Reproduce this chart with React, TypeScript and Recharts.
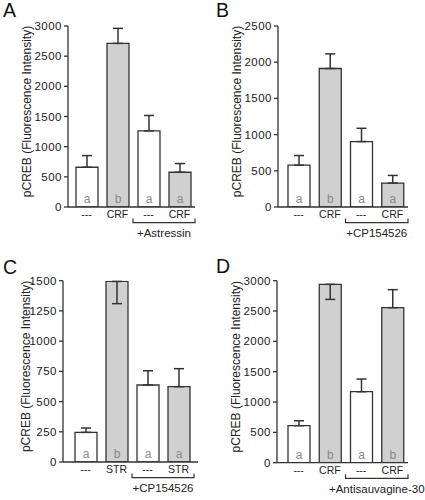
import { BarChart, Bar, XAxis, YAxis, ErrorBar, Cell, LabelList } from 'recharts';

const FONT = '"Liberation Sans", Arial, Helvetica, sans-serif';
const INK = '#333333';
const GREY = '#d0d0d0';

// panel A
const aNames = ['---', 'CRF', '---', 'CRF'];
const aValues = [659, 2712, 1262, 576];
const aErr = [[0, 193], [0, 249], [0, 255], [0, 144]];
const aLetters = ['a', 'b', 'a', 'a'];
const aTicks = [0, 500, 1000, 1500, 2000, 2500, 3000];

// panel B
const bNames = ['---', 'CRF', '---', 'CRF'];
const bValues = [578, 1913, 904, 330];
const bErr = [[0, 133], [0, 202], [0, 183], [0, 106]];
const bLetters = ['a', 'b', 'a', 'a'];
const bTicks = [0, 500, 1000, 1500, 2000, 2500];

// panel C
const cNames = ['---', 'STR', '---', 'STR'];
const cValues = [245, 1494, 637, 623];
const cErr = [[0, 36], [184, 0], [0, 118], [0, 149]];
const cLetters = ['a', 'b', 'a', 'a'];
const cTicks = [0, 250, 500, 750, 1000, 1250, 1500];

// panel D
const dNames = ['---', 'CRF', '---', 'CRF'];
const dValues = [610, 2940, 1170, 2555];
const dErr = [[0, 82], [248, 0], [0, 209], [0, 297]];
const dLetters = ['a', 'b', 'a', 'b'];
const dTicks = [0, 500, 1000, 1500, 2000, 2500, 3000];

const fills = ['#ffffff', GREY, '#ffffff', GREY];

const rows = (names: string[], values: number[], errs: number[][], letters: string[]) =>
  names.map((name, i) => ({ name, value: values[i], err: errs[i], letter: letters[i] }));

const W = 215;
const H = 250;

interface PanelLayout {
  left: number;
  top: number;
  plotLeft: number;
  plotTop: number;
  plotBottom: number;
  plotRight: number;
  padL: number;
  padR: number;
  letterX: number;
  letterY: number;
  labelX: number;
}

interface PanelProps {
  layout: PanelLayout;
  data: { name: string; value: number; err: number[]; letter: string }[];
  ticks: number[];
  letter: string;
  group: string;
}

function CatTick(props: any) {
  const { x, y, payload, half, group } = props;
  const i = payload.index;
  return (
    <g>
      <text x={x} y={y + 11} textAnchor="middle" fontSize={10.5} fontFamily={FONT} style={{ fill: '#222' }}>
        {payload.value}
      </text>
      {i === 2 && (
        <path d={`M${x - half},${y + 11.5} V${y + 15.7} H${x + half}`} fill="none" stroke={INK} strokeWidth={1.2} />
      )}
      {i === 3 && (
        <g>
          <path d={`M${x - half},${y + 15.7} H${x + half} V${y + 11.5}`} fill="none" stroke={INK} strokeWidth={1.2} />
          <text x={x - half} y={y + 30} textAnchor="middle" fontSize={11.5} fontFamily={FONT} style={{ fill: '#222' }}>
            {group}
          </text>
        </g>
      )}
    </g>
  );
}

const renderLetter = (p: any) => (
  <text
    x={p.x + p.width / 2}
    y={p.y + p.height - 4}
    textAnchor="middle"
    fontSize={12}
    fontFamily={FONT}
    style={{ fill: '#8a8a8a', stroke: 'none' }}
  >
    {p.value}
  </text>
);

function Panel({ layout, data, ticks, letter, group }: PanelProps) {
  const band = (layout.plotRight - layout.plotLeft - layout.padL - layout.padR) / data.length;
  const half = band / 2;
  const yMax = ticks[ticks.length - 1];
  const cx = layout.labelX;
  const cy = (layout.plotTop + layout.plotBottom) / 2 - 5;

  return (
    <div style={{ position: 'absolute', left: layout.left, top: layout.top, width: W, height: H }}>
      <BarChart
        width={W}
        height={H}
        data={data}
        style={{ overflow: 'visible' }}
        margin={{
          top: layout.plotTop,
          right: W - layout.plotRight,
          bottom: H - layout.plotBottom - 30,
          left: 0,
        }}
      >
        <XAxis
          dataKey="name"
          type="category"
          height={30}
          interval={0}
          padding={{ left: layout.padL, right: layout.padR }}
          tickLine={false}
          tickSize={0}
          tickMargin={0}
          axisLine={{ stroke: INK, strokeWidth: 1.3 }}
          tick={(p: any) => <CatTick {...p} half={half} group={group} />}
        />
        <YAxis
          type="number"
          width={layout.plotLeft}
          domain={[0, yMax]}
          ticks={ticks}
          allowDataOverflow
          interval={0}
          tickSize={4}
          tickMargin={2}
          axisLine={{ stroke: INK, strokeWidth: 1.3 }}
          tickLine={{ stroke: INK, strokeWidth: 1.3 }}
          tick={{ fontSize: 11.5, fill: '#1a1a1a', fontFamily: FONT, letterSpacing: 0.5 }}
        />
        <Bar dataKey="value" barSize={22} stroke={INK} strokeWidth={1.3} isAnimationActive={false}>
          {data.map((d, i) => (
            <Cell key={d.name + i} fill={fills[i]} />
          ))}
          <LabelList dataKey="letter" content={renderLetter} />
          <ErrorBar dataKey="err" direction="y" width={5} stroke={INK} strokeWidth={1.5} />
        </Bar>
      </BarChart>
      <svg
        width={W}
        height={H}
        style={{ position: 'absolute', left: 0, top: 0, overflow: 'visible', pointerEvents: 'none' }}
      >
        <text x={layout.letterX} y={layout.letterY} fontSize={19.5} fontFamily={FONT} style={{ fill: '#111' }}>
          {letter}
        </text>
        <text
          x={cx}
          y={cy}
          transform={`rotate(-90 ${cx} ${cy})`}
          textAnchor="middle"
          dominantBaseline="central"
          fontSize={12}
          fontFamily={FONT}
          style={{ fill: '#222' }}
        >
          pCREB (Fluorescence Intensity)
        </text>
      </svg>
    </div>
  );
}

const layoutA: PanelLayout = { left: 0, top: 0, plotLeft: 68, plotTop: 26, plotBottom: 207, plotRight: 195, padL: 3, padR: 0, letterX: 3, letterY: 17, labelX: 27 };
const layoutB: PanelLayout = { left: 210, top: 0, plotLeft: 68, plotTop: 26, plotBottom: 207, plotRight: 198, padL: 5, padR: 0, letterX: 6, letterY: 17, labelX: 27 };
const layoutC: PanelLayout = { left: 0, top: 250, plotLeft: 63, plotTop: 30.7, plotBottom: 212, plotRight: 198, padL: 7, padR: 4, letterX: 3, letterY: 24, labelX: 26 };
const layoutD: PanelLayout = { left: 210, top: 250, plotLeft: 67, plotTop: 30.7, plotBottom: 212.7, plotRight: 198, padL: 6, padR: 0, letterX: 6, letterY: 23, labelX: 26 };

export default function App() {
  return (
    <div style={{ position: 'absolute', left: 0, top: 0, width: 425, height: 500, background: '#fff' }}>
      <Panel layout={layoutA} data={rows(aNames, aValues, aErr, aLetters)} ticks={aTicks} letter="A" group="+Astressin" />
      <Panel layout={layoutB} data={rows(bNames, bValues, bErr, bLetters)} ticks={bTicks} letter="B" group="+CP154526" />
      <Panel layout={layoutC} data={rows(cNames, cValues, cErr, cLetters)} ticks={cTicks} letter="C" group="+CP154526" />
      <Panel layout={layoutD} data={rows(dNames, dValues, dErr, dLetters)} ticks={dTicks} letter="D" group="+Antisauvagine-30" />
    </div>
  );
}
